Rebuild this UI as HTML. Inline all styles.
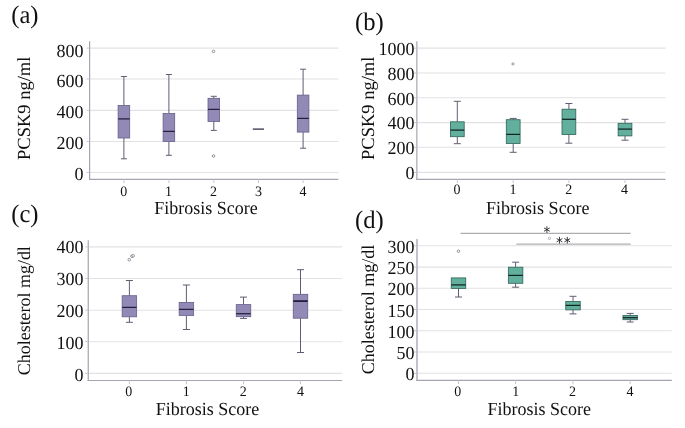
<!DOCTYPE html>
<html><head><meta charset="utf-8"><title>Box plots</title>
<style>
html,body{margin:0;padding:0;background:#fff;}
svg{display:block;will-change:transform;font-family:'Liberation Serif', serif;text-rendering:geometricPrecision;}
</style></head>
<body>
<svg width="685" height="428" viewBox="0 0 685 428">
<rect width="685" height="428" fill="#ffffff"/>
<line x1="89.6" y1="48.1" x2="338.4" y2="48.1" stroke="#e2e2e4" stroke-width="1.1"/>
<line x1="89.6" y1="79.0" x2="338.4" y2="79.0" stroke="#e2e2e4" stroke-width="1.1"/>
<line x1="89.6" y1="110.4" x2="338.4" y2="110.4" stroke="#e2e2e4" stroke-width="1.1"/>
<line x1="89.6" y1="141.5" x2="338.4" y2="141.5" stroke="#e2e2e4" stroke-width="1.1"/>
<line x1="89.6" y1="172.5" x2="338.4" y2="172.5" stroke="#e2e2e4" stroke-width="1.1"/>
<line x1="89.6" y1="41.3" x2="89.6" y2="180.0" stroke="#a5a5b1" stroke-width="1.2"/>
<line x1="89.0" y1="179.4" x2="338.4" y2="179.4" stroke="#a5a5b1" stroke-width="1.15"/>
<line x1="86.6" y1="48.1" x2="89.6" y2="48.1" stroke="#c6c6ce" stroke-width="1"/>
<text transform="translate(83.4,56.65) scale(1,1.025)" font-size="18" text-anchor="end" fill="#111">800</text>
<line x1="86.6" y1="79.0" x2="89.6" y2="79.0" stroke="#c6c6ce" stroke-width="1"/>
<text transform="translate(83.4,87.44) scale(1,1.025)" font-size="18" text-anchor="end" fill="#111">600</text>
<line x1="86.6" y1="110.4" x2="89.6" y2="110.4" stroke="#c6c6ce" stroke-width="1"/>
<text transform="translate(83.4,118.22) scale(1,1.025)" font-size="18" text-anchor="end" fill="#111">400</text>
<line x1="86.6" y1="141.5" x2="89.6" y2="141.5" stroke="#c6c6ce" stroke-width="1"/>
<text transform="translate(83.4,149.01) scale(1,1.025)" font-size="18" text-anchor="end" fill="#111">200</text>
<line x1="86.6" y1="172.5" x2="89.6" y2="172.5" stroke="#c6c6ce" stroke-width="1"/>
<text transform="translate(83.4,179.8) scale(1,1.025)" font-size="18" text-anchor="end" fill="#111">0</text>
<line x1="123.9" y1="76.5" x2="123.9" y2="105.5" stroke="#615d71" stroke-width="1"/>
<line x1="123.9" y1="138.0" x2="123.9" y2="158.8" stroke="#615d71" stroke-width="1"/>
<line x1="120.9" y1="76.5" x2="126.9" y2="76.5" stroke="#615d71" stroke-width="1"/>
<line x1="120.9" y1="158.8" x2="126.9" y2="158.8" stroke="#615d71" stroke-width="1"/>
<rect x="118.1" y="105.5" width="11.6" height="32.5" fill="#9389b6" stroke="#645f88" stroke-width="0.8"/>
<line x1="118.1" y1="118.9" x2="129.7" y2="118.9" stroke="#241f3c" stroke-width="1.25"/>
<line x1="168.9" y1="74.5" x2="168.9" y2="113.5" stroke="#615d71" stroke-width="1"/>
<line x1="168.9" y1="141.5" x2="168.9" y2="155.3" stroke="#615d71" stroke-width="1"/>
<line x1="165.9" y1="74.5" x2="171.9" y2="74.5" stroke="#615d71" stroke-width="1"/>
<line x1="165.9" y1="155.3" x2="171.9" y2="155.3" stroke="#615d71" stroke-width="1"/>
<rect x="163.1" y="113.5" width="11.6" height="28.0" fill="#9389b6" stroke="#645f88" stroke-width="0.8"/>
<line x1="163.1" y1="131.4" x2="174.7" y2="131.4" stroke="#241f3c" stroke-width="1.25"/>
<line x1="213.8" y1="96.3" x2="213.8" y2="98.3" stroke="#615d71" stroke-width="1"/>
<line x1="213.8" y1="121.5" x2="213.8" y2="130.4" stroke="#615d71" stroke-width="1"/>
<line x1="210.8" y1="96.3" x2="216.8" y2="96.3" stroke="#615d71" stroke-width="1"/>
<line x1="210.8" y1="130.4" x2="216.8" y2="130.4" stroke="#615d71" stroke-width="1"/>
<rect x="208.0" y="98.3" width="11.6" height="23.2" fill="#9389b6" stroke="#645f88" stroke-width="0.8"/>
<line x1="208.0" y1="109.4" x2="219.6" y2="109.4" stroke="#241f3c" stroke-width="1.25"/>
<circle cx="213.5" cy="51.4" r="1.3" fill="#fff" stroke="#74727e" stroke-width="0.75"/>
<circle cx="213.5" cy="156.0" r="1.3" fill="#fff" stroke="#74727e" stroke-width="0.75"/>
<line x1="252.8" y1="129.1" x2="264.0" y2="129.1" stroke="#241f3c" stroke-width="1.2"/>
<line x1="303.1" y1="69.2" x2="303.1" y2="95.1" stroke="#615d71" stroke-width="1"/>
<line x1="303.1" y1="132.1" x2="303.1" y2="148.2" stroke="#615d71" stroke-width="1"/>
<line x1="300.1" y1="69.2" x2="306.1" y2="69.2" stroke="#615d71" stroke-width="1"/>
<line x1="300.1" y1="148.2" x2="306.1" y2="148.2" stroke="#615d71" stroke-width="1"/>
<rect x="297.3" y="95.1" width="11.6" height="37.0" fill="#9389b6" stroke="#645f88" stroke-width="0.8"/>
<line x1="297.3" y1="118.4" x2="308.9" y2="118.4" stroke="#241f3c" stroke-width="1.25"/>
<line x1="123.9" y1="179.4" x2="123.9" y2="183.1" stroke="#c6c6ce" stroke-width="1"/>
<text transform="translate(123.8,195.5) scale(1,1.025)" font-size="14" text-anchor="middle" fill="#111">0</text>
<line x1="168.9" y1="179.4" x2="168.9" y2="183.1" stroke="#c6c6ce" stroke-width="1"/>
<text transform="translate(168.6,195.5) scale(1,1.025)" font-size="14" text-anchor="middle" fill="#111">1</text>
<line x1="213.8" y1="179.4" x2="213.8" y2="183.1" stroke="#c6c6ce" stroke-width="1"/>
<text transform="translate(213.5,195.5) scale(1,1.025)" font-size="14" text-anchor="middle" fill="#111">2</text>
<line x1="258.4" y1="179.4" x2="258.4" y2="183.1" stroke="#c6c6ce" stroke-width="1"/>
<text transform="translate(258.4,195.5) scale(1,1.025)" font-size="14" text-anchor="middle" fill="#111">3</text>
<line x1="303.1" y1="179.4" x2="303.1" y2="183.1" stroke="#c6c6ce" stroke-width="1"/>
<text transform="translate(303.1,195.5) scale(1,1.025)" font-size="14" text-anchor="middle" fill="#111">4</text>
<text transform="translate(154.3,213.6) scale(1,1.025)" font-size="18.0" fill="#111">Fibrosis Score</text>
<text transform="translate(30.2,160.0) scale(1.0,1) rotate(-90)" font-size="18.5" fill="#111">PCSK9 ng/ml</text>
<text transform="translate(11.2,23.1) scale(1,1.025)" font-size="24.6" fill="#111">(a)</text>
<line x1="416.85" y1="48.1" x2="665.5" y2="48.1" stroke="#e2e2e4" stroke-width="1.1"/>
<line x1="416.85" y1="73.0" x2="665.5" y2="73.0" stroke="#e2e2e4" stroke-width="1.1"/>
<line x1="416.85" y1="97.8" x2="665.5" y2="97.8" stroke="#e2e2e4" stroke-width="1.1"/>
<line x1="416.85" y1="122.6" x2="665.5" y2="122.6" stroke="#e2e2e4" stroke-width="1.1"/>
<line x1="416.85" y1="147.3" x2="665.5" y2="147.3" stroke="#e2e2e4" stroke-width="1.1"/>
<line x1="416.85" y1="172.4" x2="665.5" y2="172.4" stroke="#e2e2e4" stroke-width="1.1"/>
<line x1="416.85" y1="41.3" x2="416.85" y2="179.95" stroke="#a5a5b1" stroke-width="1.2"/>
<line x1="416.25" y1="179.35" x2="665.5" y2="179.35" stroke="#a5a5b1" stroke-width="1.15"/>
<line x1="413.85" y1="48.1" x2="416.85" y2="48.1" stroke="#c6c6ce" stroke-width="1"/>
<text transform="translate(414.4,54.65) scale(1,1.025)" font-size="18" text-anchor="end" fill="#111">1000</text>
<line x1="413.85" y1="73.0" x2="416.85" y2="73.0" stroke="#c6c6ce" stroke-width="1"/>
<text transform="translate(414.4,79.58) scale(1,1.025)" font-size="18" text-anchor="end" fill="#111">800</text>
<line x1="413.85" y1="97.8" x2="416.85" y2="97.8" stroke="#c6c6ce" stroke-width="1"/>
<text transform="translate(414.4,104.51) scale(1,1.025)" font-size="18" text-anchor="end" fill="#111">600</text>
<line x1="413.85" y1="122.6" x2="416.85" y2="122.6" stroke="#c6c6ce" stroke-width="1"/>
<text transform="translate(414.4,129.44) scale(1,1.025)" font-size="18" text-anchor="end" fill="#111">400</text>
<line x1="413.85" y1="147.3" x2="416.85" y2="147.3" stroke="#c6c6ce" stroke-width="1"/>
<text transform="translate(414.4,154.37) scale(1,1.025)" font-size="18" text-anchor="end" fill="#111">200</text>
<line x1="413.85" y1="172.4" x2="416.85" y2="172.4" stroke="#c6c6ce" stroke-width="1"/>
<text transform="translate(414.4,179.3) scale(1,1.025)" font-size="18" text-anchor="end" fill="#111">0</text>
<line x1="457.3" y1="101.3" x2="457.3" y2="121.8" stroke="#615d71" stroke-width="1"/>
<line x1="457.3" y1="136.7" x2="457.3" y2="143.7" stroke="#615d71" stroke-width="1"/>
<line x1="453.8" y1="101.3" x2="460.8" y2="101.3" stroke="#615d71" stroke-width="1"/>
<line x1="453.8" y1="143.7" x2="460.8" y2="143.7" stroke="#615d71" stroke-width="1"/>
<rect x="450.4" y="121.8" width="13.8" height="14.9" fill="#62af9e" stroke="#2f6258" stroke-width="0.8"/>
<line x1="450.4" y1="130.1" x2="464.2" y2="130.1" stroke="#0e2421" stroke-width="1.25"/>
<line x1="513.2" y1="118.4" x2="513.2" y2="119.7" stroke="#615d71" stroke-width="1"/>
<line x1="513.2" y1="143.5" x2="513.2" y2="152.3" stroke="#615d71" stroke-width="1"/>
<line x1="509.70000000000005" y1="118.4" x2="516.7" y2="118.4" stroke="#615d71" stroke-width="1"/>
<line x1="509.70000000000005" y1="152.3" x2="516.7" y2="152.3" stroke="#615d71" stroke-width="1"/>
<rect x="506.3" y="119.7" width="13.8" height="23.8" fill="#62af9e" stroke="#2f6258" stroke-width="0.8"/>
<line x1="506.3" y1="134.4" x2="520.1" y2="134.4" stroke="#0e2421" stroke-width="1.25"/>
<circle cx="513.0" cy="63.9" r="1.6" fill="#b3b1bb"/>
<line x1="568.9" y1="103.5" x2="568.9" y2="109.2" stroke="#615d71" stroke-width="1"/>
<line x1="568.9" y1="134.6" x2="568.9" y2="143.2" stroke="#615d71" stroke-width="1"/>
<line x1="565.4" y1="103.5" x2="572.4" y2="103.5" stroke="#615d71" stroke-width="1"/>
<line x1="565.4" y1="143.2" x2="572.4" y2="143.2" stroke="#615d71" stroke-width="1"/>
<rect x="562.0" y="109.2" width="13.8" height="25.4" fill="#62af9e" stroke="#2f6258" stroke-width="0.8"/>
<line x1="562.0" y1="119.3" x2="575.8" y2="119.3" stroke="#0e2421" stroke-width="1.25"/>
<line x1="625.0" y1="119.3" x2="625.0" y2="123.3" stroke="#615d71" stroke-width="1"/>
<line x1="625.0" y1="135.9" x2="625.0" y2="140.2" stroke="#615d71" stroke-width="1"/>
<line x1="621.5" y1="119.3" x2="628.5" y2="119.3" stroke="#615d71" stroke-width="1"/>
<line x1="621.5" y1="140.2" x2="628.5" y2="140.2" stroke="#615d71" stroke-width="1"/>
<rect x="618.1" y="123.3" width="13.8" height="12.6" fill="#62af9e" stroke="#2f6258" stroke-width="0.8"/>
<line x1="618.1" y1="129.1" x2="631.9" y2="129.1" stroke="#0e2421" stroke-width="1.25"/>
<line x1="457.3" y1="179.35" x2="457.3" y2="183.04999999999998" stroke="#c6c6ce" stroke-width="1"/>
<text transform="translate(457.0,194.0) scale(1,1.025)" font-size="14" text-anchor="middle" fill="#111">0</text>
<line x1="513.2" y1="179.35" x2="513.2" y2="183.04999999999998" stroke="#c6c6ce" stroke-width="1"/>
<text transform="translate(512.9,194.0) scale(1,1.025)" font-size="14" text-anchor="middle" fill="#111">1</text>
<line x1="568.9" y1="179.35" x2="568.9" y2="183.04999999999998" stroke="#c6c6ce" stroke-width="1"/>
<text transform="translate(568.7,194.0) scale(1,1.025)" font-size="14" text-anchor="middle" fill="#111">2</text>
<line x1="625.0" y1="179.35" x2="625.0" y2="183.04999999999998" stroke="#c6c6ce" stroke-width="1"/>
<text transform="translate(624.4,194.0) scale(1,1.025)" font-size="14" text-anchor="middle" fill="#111">4</text>
<text transform="translate(486.1,213.6) scale(1,1.025)" font-size="18.0" fill="#111">Fibrosis Score</text>
<text transform="translate(373.9,160.0) scale(1.0,1) rotate(-90)" font-size="18.5" fill="#111">PCSK9 ng/ml</text>
<text transform="translate(355.0,29.7) scale(1,1.025)" font-size="24.6" fill="#111">(b)</text>
<line x1="88.25" y1="246.9" x2="342.0" y2="246.9" stroke="#e2e2e4" stroke-width="1.1"/>
<line x1="88.25" y1="278.5" x2="342.0" y2="278.5" stroke="#e2e2e4" stroke-width="1.1"/>
<line x1="88.25" y1="310.2" x2="342.0" y2="310.2" stroke="#e2e2e4" stroke-width="1.1"/>
<line x1="88.25" y1="341.7" x2="342.0" y2="341.7" stroke="#e2e2e4" stroke-width="1.1"/>
<line x1="88.25" y1="373.4" x2="342.0" y2="373.4" stroke="#e2e2e4" stroke-width="1.1"/>
<line x1="88.25" y1="240.2" x2="88.25" y2="381.05" stroke="#a5a5b1" stroke-width="1.2"/>
<line x1="87.65" y1="380.45" x2="342.0" y2="380.45" stroke="#a5a5b1" stroke-width="1.15"/>
<line x1="85.25" y1="246.9" x2="88.25" y2="246.9" stroke="#c6c6ce" stroke-width="1"/>
<text transform="translate(83.5,253.1) scale(1,1.025)" font-size="18" text-anchor="end" fill="#111">400</text>
<line x1="85.25" y1="278.5" x2="88.25" y2="278.5" stroke="#c6c6ce" stroke-width="1"/>
<text transform="translate(83.5,285.0) scale(1,1.025)" font-size="18" text-anchor="end" fill="#111">300</text>
<line x1="85.25" y1="310.2" x2="88.25" y2="310.2" stroke="#c6c6ce" stroke-width="1"/>
<text transform="translate(83.5,316.9) scale(1,1.025)" font-size="18" text-anchor="end" fill="#111">200</text>
<line x1="85.25" y1="341.7" x2="88.25" y2="341.7" stroke="#c6c6ce" stroke-width="1"/>
<text transform="translate(83.5,348.8) scale(1,1.025)" font-size="18" text-anchor="end" fill="#111">100</text>
<line x1="85.25" y1="373.4" x2="88.25" y2="373.4" stroke="#c6c6ce" stroke-width="1"/>
<text transform="translate(83.5,380.7) scale(1,1.025)" font-size="18" text-anchor="end" fill="#111">0</text>
<line x1="129.4" y1="280.5" x2="129.4" y2="295.7" stroke="#615d71" stroke-width="1"/>
<line x1="129.4" y1="316.8" x2="129.4" y2="322.3" stroke="#615d71" stroke-width="1"/>
<line x1="125.9" y1="280.5" x2="132.9" y2="280.5" stroke="#615d71" stroke-width="1"/>
<line x1="125.9" y1="322.3" x2="132.9" y2="322.3" stroke="#615d71" stroke-width="1"/>
<rect x="122.15" y="295.7" width="14.5" height="21.1" fill="#9389b6" stroke="#645f88" stroke-width="0.8"/>
<line x1="122.15" y1="307.4" x2="136.65" y2="307.4" stroke="#241f3c" stroke-width="1.25"/>
<circle cx="129.25" cy="259.7" r="1.3" fill="#fff" stroke="#74727e" stroke-width="0.75"/>
<circle cx="131.9" cy="256.2" r="1.3" fill="#fff" stroke="#74727e" stroke-width="0.75"/>
<circle cx="133.2" cy="255.8" r="1.3" fill="#fff" stroke="#74727e" stroke-width="0.75"/>
<line x1="186.4" y1="285.0" x2="186.4" y2="302.4" stroke="#615d71" stroke-width="1"/>
<line x1="186.4" y1="315.4" x2="186.4" y2="329.5" stroke="#615d71" stroke-width="1"/>
<line x1="182.9" y1="285.0" x2="189.9" y2="285.0" stroke="#615d71" stroke-width="1"/>
<line x1="182.9" y1="329.5" x2="189.9" y2="329.5" stroke="#615d71" stroke-width="1"/>
<rect x="179.15" y="302.4" width="14.5" height="13.0" fill="#9389b6" stroke="#645f88" stroke-width="0.8"/>
<line x1="179.15" y1="309.4" x2="193.65" y2="309.4" stroke="#241f3c" stroke-width="1.25"/>
<line x1="243.5" y1="297.1" x2="243.5" y2="304.6" stroke="#615d71" stroke-width="1"/>
<line x1="243.5" y1="316.7" x2="243.5" y2="318.4" stroke="#615d71" stroke-width="1"/>
<line x1="240.0" y1="297.1" x2="247.0" y2="297.1" stroke="#615d71" stroke-width="1"/>
<line x1="240.0" y1="318.4" x2="247.0" y2="318.4" stroke="#615d71" stroke-width="1"/>
<rect x="236.25" y="304.6" width="14.5" height="12.1" fill="#9389b6" stroke="#645f88" stroke-width="0.8"/>
<line x1="236.25" y1="313.7" x2="250.75" y2="313.7" stroke="#241f3c" stroke-width="1.25"/>
<line x1="300.5" y1="269.7" x2="300.5" y2="294.3" stroke="#615d71" stroke-width="1"/>
<line x1="300.5" y1="318.2" x2="300.5" y2="352.5" stroke="#615d71" stroke-width="1"/>
<line x1="297.0" y1="269.7" x2="304.0" y2="269.7" stroke="#615d71" stroke-width="1"/>
<line x1="297.0" y1="352.5" x2="304.0" y2="352.5" stroke="#615d71" stroke-width="1"/>
<rect x="293.25" y="294.3" width="14.5" height="23.9" fill="#9389b6" stroke="#645f88" stroke-width="0.8"/>
<line x1="293.25" y1="301.1" x2="307.75" y2="301.1" stroke="#241f3c" stroke-width="1.8"/>
<line x1="129.4" y1="380.45" x2="129.4" y2="384.15" stroke="#c6c6ce" stroke-width="1"/>
<text transform="translate(128.8,395.6) scale(1,1.025)" font-size="14" text-anchor="middle" fill="#111">0</text>
<line x1="186.4" y1="380.45" x2="186.4" y2="384.15" stroke="#c6c6ce" stroke-width="1"/>
<text transform="translate(186.3,395.6) scale(1,1.025)" font-size="14" text-anchor="middle" fill="#111">1</text>
<line x1="243.5" y1="380.45" x2="243.5" y2="384.15" stroke="#c6c6ce" stroke-width="1"/>
<text transform="translate(243.3,395.6) scale(1,1.025)" font-size="14" text-anchor="middle" fill="#111">2</text>
<line x1="300.5" y1="380.45" x2="300.5" y2="384.15" stroke="#c6c6ce" stroke-width="1"/>
<text transform="translate(300.4,395.6) scale(1,1.025)" font-size="14" text-anchor="middle" fill="#111">4</text>
<text transform="translate(155.7,415.4) scale(1,1.025)" font-size="18.0" fill="#111">Fibrosis Score</text>
<text transform="translate(30.2,375.2) scale(1.0,1) rotate(-90)" font-size="17.95" fill="#111">Cholesterol mg/dl</text>
<text transform="translate(11.2,221.9) scale(1,1.025)" font-size="24.6" fill="#111">(c)</text>
<line x1="417.0" y1="245.8" x2="671.8" y2="245.8" stroke="#e2e2e4" stroke-width="1.1"/>
<line x1="417.0" y1="267.1" x2="671.8" y2="267.1" stroke="#e2e2e4" stroke-width="1.1"/>
<line x1="417.0" y1="288.3" x2="671.8" y2="288.3" stroke="#e2e2e4" stroke-width="1.1"/>
<line x1="417.0" y1="309.5" x2="671.8" y2="309.5" stroke="#e2e2e4" stroke-width="1.1"/>
<line x1="417.0" y1="330.7" x2="671.8" y2="330.7" stroke="#e2e2e4" stroke-width="1.1"/>
<line x1="417.0" y1="352.0" x2="671.8" y2="352.0" stroke="#e2e2e4" stroke-width="1.1"/>
<line x1="417.0" y1="373.3" x2="671.8" y2="373.3" stroke="#e2e2e4" stroke-width="1.1"/>
<line x1="417.0" y1="239.0" x2="417.0" y2="381.0" stroke="#a5a5b1" stroke-width="1.35"/>
<line x1="416.4" y1="380.4" x2="671.8" y2="380.4" stroke="#a5a5b1" stroke-width="1.15"/>
<line x1="414.0" y1="245.8" x2="417.0" y2="245.8" stroke="#c6c6ce" stroke-width="1"/>
<text transform="translate(414.4,253.0) scale(1,1.025)" font-size="18" text-anchor="end" fill="#111">300</text>
<line x1="414.0" y1="267.1" x2="417.0" y2="267.1" stroke="#c6c6ce" stroke-width="1"/>
<text transform="translate(414.4,274.22) scale(1,1.025)" font-size="18" text-anchor="end" fill="#111">250</text>
<line x1="414.0" y1="288.3" x2="417.0" y2="288.3" stroke="#c6c6ce" stroke-width="1"/>
<text transform="translate(414.4,295.43) scale(1,1.025)" font-size="18" text-anchor="end" fill="#111">200</text>
<line x1="414.0" y1="309.5" x2="417.0" y2="309.5" stroke="#c6c6ce" stroke-width="1"/>
<text transform="translate(414.4,316.65) scale(1,1.025)" font-size="18" text-anchor="end" fill="#111">150</text>
<line x1="414.0" y1="330.7" x2="417.0" y2="330.7" stroke="#c6c6ce" stroke-width="1"/>
<text transform="translate(414.4,337.87) scale(1,1.025)" font-size="18" text-anchor="end" fill="#111">100</text>
<line x1="414.0" y1="352.0" x2="417.0" y2="352.0" stroke="#c6c6ce" stroke-width="1"/>
<text transform="translate(414.4,359.08) scale(1,1.025)" font-size="18" text-anchor="end" fill="#111">50</text>
<line x1="414.0" y1="373.3" x2="417.0" y2="373.3" stroke="#c6c6ce" stroke-width="1"/>
<text transform="translate(414.4,380.3) scale(1,1.025)" font-size="18" text-anchor="end" fill="#111">0</text>
<line x1="458.5" y1="277.9" x2="458.5" y2="277.9" stroke="#615d71" stroke-width="1"/>
<line x1="458.5" y1="288.4" x2="458.5" y2="297.0" stroke="#615d71" stroke-width="1"/>
<line x1="455.0" y1="297.0" x2="462.0" y2="297.0" stroke="#615d71" stroke-width="1"/>
<rect x="451.25" y="277.9" width="14.5" height="10.5" fill="#62af9e" stroke="#2f6258" stroke-width="0.8"/>
<line x1="451.25" y1="284.9" x2="465.75" y2="284.9" stroke="#0e2421" stroke-width="1.25"/>
<circle cx="458.5" cy="251.2" r="1.3" fill="#fff" stroke="#74727e" stroke-width="0.75"/>
<line x1="515.6" y1="262.2" x2="515.6" y2="267.2" stroke="#615d71" stroke-width="1"/>
<line x1="515.6" y1="283.3" x2="515.6" y2="287.2" stroke="#615d71" stroke-width="1"/>
<line x1="512.1" y1="262.2" x2="519.1" y2="262.2" stroke="#615d71" stroke-width="1"/>
<line x1="512.1" y1="287.2" x2="519.1" y2="287.2" stroke="#615d71" stroke-width="1"/>
<rect x="508.35" y="267.2" width="14.5" height="16.1" fill="#62af9e" stroke="#2f6258" stroke-width="0.8"/>
<line x1="508.35" y1="275.4" x2="522.85" y2="275.4" stroke="#0e2421" stroke-width="1.25"/>
<line x1="573.0" y1="296.3" x2="573.0" y2="301.4" stroke="#615d71" stroke-width="1"/>
<line x1="573.0" y1="309.9" x2="573.0" y2="313.9" stroke="#615d71" stroke-width="1"/>
<line x1="569.5" y1="296.3" x2="576.5" y2="296.3" stroke="#615d71" stroke-width="1"/>
<line x1="569.5" y1="313.9" x2="576.5" y2="313.9" stroke="#615d71" stroke-width="1"/>
<rect x="565.75" y="301.4" width="14.5" height="8.5" fill="#62af9e" stroke="#2f6258" stroke-width="0.8"/>
<line x1="565.75" y1="305.4" x2="580.25" y2="305.4" stroke="#0e2421" stroke-width="1.25"/>
<line x1="630.2" y1="313.4" x2="630.2" y2="315.4" stroke="#615d71" stroke-width="1"/>
<line x1="630.2" y1="319.7" x2="630.2" y2="322.0" stroke="#615d71" stroke-width="1"/>
<line x1="626.7" y1="313.4" x2="633.7" y2="313.4" stroke="#615d71" stroke-width="1"/>
<line x1="626.7" y1="322.0" x2="633.7" y2="322.0" stroke="#615d71" stroke-width="1"/>
<rect x="622.95" y="315.4" width="14.5" height="4.3" fill="#62af9e" stroke="#2f6258" stroke-width="0.8"/>
<line x1="622.95" y1="317.7" x2="637.45" y2="317.7" stroke="#0e2421" stroke-width="1.25"/>
<line x1="458.5" y1="380.4" x2="458.5" y2="384.09999999999997" stroke="#c6c6ce" stroke-width="1"/>
<text transform="translate(457.8,395.6) scale(1,1.025)" font-size="14" text-anchor="middle" fill="#111">0</text>
<line x1="515.6" y1="380.4" x2="515.6" y2="384.09999999999997" stroke="#c6c6ce" stroke-width="1"/>
<text transform="translate(515.8,395.6) scale(1,1.025)" font-size="14" text-anchor="middle" fill="#111">1</text>
<line x1="573.0" y1="380.4" x2="573.0" y2="384.09999999999997" stroke="#c6c6ce" stroke-width="1"/>
<text transform="translate(572.5,395.6) scale(1,1.025)" font-size="14" text-anchor="middle" fill="#111">2</text>
<line x1="630.2" y1="380.4" x2="630.2" y2="384.09999999999997" stroke="#c6c6ce" stroke-width="1"/>
<text transform="translate(630.1,395.6) scale(1,1.025)" font-size="14" text-anchor="middle" fill="#111">4</text>
<text transform="translate(487.5,415.4) scale(1,1.025)" font-size="18.0" fill="#111">Fibrosis Score</text>
<text transform="translate(373.9,374.2) scale(1.0,1) rotate(-90)" font-size="18.0" fill="#111">Cholesterol mg/dl</text>
<text transform="translate(355.0,228.1) scale(1,1.025)" font-size="24.6" fill="#111">(d)</text>
<line x1="460.6" y1="233.3" x2="630.7" y2="233.3" stroke="#8f8f94" stroke-width="0.9"/>
<line x1="516.4" y1="244.1" x2="630.7" y2="244.1" stroke="#8f8f94" stroke-width="0.9"/>
<path d="M546.9 226.65V232.54999999999998M544.35 228.13L549.4499999999999 231.07M544.35 231.07L549.4499999999999 228.13" stroke="#2a2a2e" stroke-width="0.9" fill="none" stroke-linecap="round"/>
<path d="M559.5 237.25V243.14999999999998M556.95 238.73L562.05 241.67M556.95 241.67L562.05 238.73" stroke="#2a2a2e" stroke-width="0.9" fill="none" stroke-linecap="round"/>
<path d="M567.3 237.25V243.14999999999998M564.75 238.73L569.8499999999999 241.67M564.75 241.67L569.8499999999999 238.73" stroke="#2a2a2e" stroke-width="0.9" fill="none" stroke-linecap="round"/>
<circle cx="549.45" cy="238.4" r="1.15" fill="#fff" stroke="#8484ae" stroke-width="0.6"/>
</svg>
</body></html>
